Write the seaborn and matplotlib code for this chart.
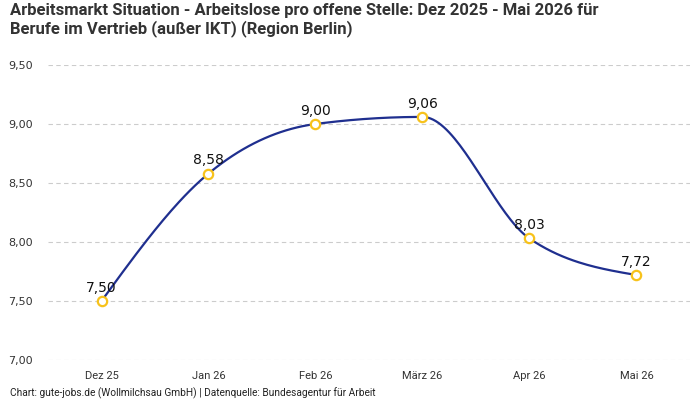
import numpy as np
import pandas as pd
import matplotlib
matplotlib.use('Agg')
import matplotlib.pyplot as plt
import seaborn as sns

# data
months = ['Dez 25', 'Jan 26', 'Feb 26', 'März 26', 'Apr 26', 'Mai 26']
values = [7.50, 8.58, 9.00, 9.06, 8.03, 7.72]
y_ticks = [7.0, 7.5, 8.0, 8.5, 9.0, 9.5]

TITLE = ('Arbeitsmarkt Situation - Arbeitslose pro offene Stelle: Dez 2025 - Mai 2026 für\n'
         'Berufe im Vertrieb (außer IKT) (Region Berlin)')
FOOTER = 'Chart: gute-jobs.de (Wollmilchsau GmbH) | Datenquelle: Bundesagentur für Arbeit'

LINE_COLOR = '#1f2f8f'
MARKER_EDGE = '#f7c21b'
COND = ['Roboto', 'DejaVu Sans']


def monotone_x(x, y, n=40):
    # monotone cubic (d3 curveMonotoneX style), only used to draw the line smoothly
    x = np.asarray(x, float)
    y = np.asarray(y, float)
    h = np.diff(x)
    s = np.diff(y) / h
    m = np.zeros_like(y)
    for i in range(1, len(y) - 1):
        p = (s[i - 1] * h[i] + s[i] * h[i - 1]) / (h[i - 1] + h[i])
        m[i] = (np.sign(s[i - 1]) + np.sign(s[i])) * min(abs(s[i - 1]), abs(s[i]), 0.5 * abs(p))
    m[0] = (3 * s[0] - m[1]) / 2
    m[-1] = (3 * s[-1] - m[-2]) / 2
    xs, ys = [], []
    for i in range(len(h)):
        t = np.linspace(0, 1, n, endpoint=(i == len(h) - 1))
        h00 = 2 * t**3 - 3 * t**2 + 1
        h10 = t**3 - 2 * t**2 + t
        h01 = -2 * t**3 + 3 * t**2
        h11 = t**3 - t**2
        xs.append(x[i] + t * h[i])
        ys.append(h00 * y[i] + h10 * h[i] * m[i] + h01 * y[i + 1] + h11 * h[i] * m[i + 1])
    return np.concatenate(xs), np.concatenate(ys)


df = pd.DataFrame({'pos': np.arange(len(months)), 'value': values})
cx, cy = monotone_x(df['pos'], df['value'])
curve = pd.DataFrame({'pos': cx, 'value': cy})

sns.set_style('white')
plt.rcParams['font.family'] = ['DejaVu Sans']

fig = plt.figure(figsize=(7, 4), dpi=100)
ax = fig.add_axes([0.0686, 0.1, 0.917, 0.7375])

sns.lineplot(data=curve, x='pos', y='value', color=LINE_COLOR, linewidth=1.6, ax=ax, zorder=3)
sns.scatterplot(data=df, x='pos', y='value', s=45, color='white', edgecolor=MARKER_EDGE,
                linewidth=1.6, ax=ax, zorder=4)

for p, v in zip(df['pos'], df['value']):
    ax.annotate(f'{v:.2f}'.replace('.', ','), (p, v), xytext=(0, 4.5), textcoords='offset points',
                ha='center', va='bottom', fontsize=10, color='#111111', zorder=5)

ax.set_xlim(-0.5, 5.5)
ax.set_ylim(7.0, 9.5)
ax.set_xticks(df['pos'])
ax.set_xticklabels(months, family=COND)
ax.set_yticks(y_ticks)
ax.set_yticklabels([f'{t:.2f}'.replace('.', ',') for t in y_ticks])
ax.tick_params(axis='both', length=0, labelsize=8, colors='#333333')
ax.tick_params(axis='y', pad=11)
ax.tick_params(axis='x', pad=8)
ax.set_xlabel('')
ax.set_ylabel('')
ax.grid(axis='y', linestyle=(0, (4, 3)), color='#cccccc', linewidth=0.8)
ax.grid(axis='x', visible=False)
sns.despine(ax=ax, left=True, bottom=True)

fig.text(0.014, 0.992, TITLE, ha='left', va='top', fontsize=12, fontweight='bold',
         color='#333333', family=COND, linespacing=1.15)
fig.text(0.014, 0.01, FOOTER, ha='left', va='baseline', fontsize=7.3, color='#222222', family=COND)

fig.savefig('out.png', dpi=100)
